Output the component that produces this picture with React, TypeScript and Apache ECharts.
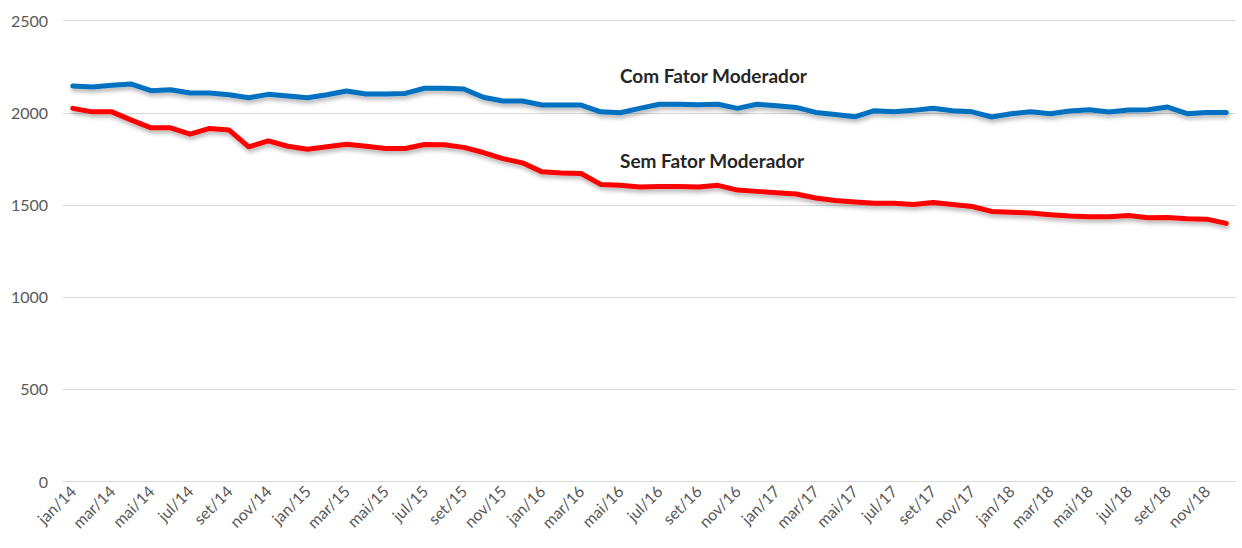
import React, { useEffect, useRef } from "react";
import * as echarts from "echarts";

const monthNames = ["jan", "fev", "mar", "abr", "mai", "jun", "jul", "ago", "set", "out", "nov", "dez"];
const years = ["14", "15", "16", "17", "18"];
const categories: string[] = [];
years.forEach((y) => monthNames.forEach((m) => categories.push(`${m}/${y}`)));

const comFator = [
  2145, 2140, 2149, 2156, 2120, 2125, 2107, 2107, 2098, 2082,
  2100, 2091, 2082, 2098, 2118, 2102, 2102, 2105, 2133, 2133,
  2129, 2084, 2064, 2064, 2042, 2042, 2042, 2005, 2000, 2024,
  2046, 2046, 2043, 2046, 2024, 2046, 2038, 2029, 2002, 1991,
  1978, 2011, 2005, 2013, 2024, 2011, 2005, 1977, 1995, 2005,
  1995, 2009, 2016, 2004, 2015, 2016, 2031, 1995, 2002, 2002,
];

const semFator = [
  2024, 2005, 2005, 1960, 1918, 1918, 1884, 1915, 1906, 1815,
  1847, 1818, 1802, 1815, 1829, 1818, 1806, 1806, 1828, 1826,
  1812, 1784, 1751, 1728, 1679, 1673, 1670, 1611, 1606, 1597,
  1600, 1600, 1597, 1606, 1580, 1573, 1566, 1559, 1537, 1523,
  1515, 1508, 1508, 1502, 1513, 1502, 1491, 1464, 1459, 1455,
  1446, 1439, 1435, 1435, 1442, 1430, 1431, 1424, 1422, 1399,
];

const labelCom = "Com Fator Moderador";
const labelSem = "Sem Fator Moderador";

export default function App() {
  const ref = useRef<HTMLDivElement>(null);
  useEffect(() => {
    if (!ref.current) return;
    const chart = echarts.init(ref.current, undefined, { renderer: "svg" });
    const font = "Lato, 'Liberation Sans', sans-serif";
    const lineShadow = {
      width: 5,
      shadowColor: "rgba(0,0,0,0.3)",
      shadowBlur: 4,
      shadowOffsetY: 3,
      shadowOffsetX: 1,
      cap: "round",
      join: "round",
    };
    chart.setOption({
      animation: false,
      grid: { left: 63, right: 6, top: 20.7, bottom: 67 },
      xAxis: {
        type: "category",
        data: categories,
        boundaryGap: true,
        axisLine: { lineStyle: { color: "#d9d9d9", width: 1 } },
        axisTick: { interval: 1, length: 5, lineStyle: { color: "#d9d9d9" } },
        axisLabel: {
          interval: 1,
          rotate: 45,
          margin: 7,
          color: "#595959",
          fontSize: 16,
          fontFamily: font,
        },
      },
      yAxis: {
        type: "value",
        min: 0,
        max: 2500,
        interval: 500,
        axisLine: { show: false },
        axisTick: { show: false },
        axisLabel: {
          color: "#595959",
          fontSize: 16,
          fontFamily: font,
          margin: 15,
          formatter: (v: number) => String(v),
        },
        splitLine: { lineStyle: { color: "#d9d9d9", width: 1 } },
      },
      series: [
        {
          name: labelCom,
          type: "line",
          data: comFator,
          showSymbol: false,
          symbol: "none",
          lineStyle: { color: "#0070C0", ...lineShadow },
          itemStyle: { color: "#0070C0" },
        },
        {
          name: labelSem,
          type: "line",
          data: semFator,
          showSymbol: false,
          symbol: "none",
          lineStyle: { color: "#FF0000", ...lineShadow },
          itemStyle: { color: "#FF0000" },
        },
      ],
      graphic: [
        {
          type: "text",
          left: 620,
          top: 66,
          style: {
            text: labelCom,
            fill: "#262626",
            font: `bold 19px ${font}`,
          },
        },
        {
          type: "text",
          left: 620,
          top: 151,
          style: {
            text: labelSem,
            fill: "#262626",
            font: `bold 19px ${font}`,
          },
        },
      ],
    });
    return () => chart.dispose();
  }, []);
  return <div ref={ref} style={{ width: 1242, height: 548, position: "absolute", left: 0, top: 0 }} />;
}
